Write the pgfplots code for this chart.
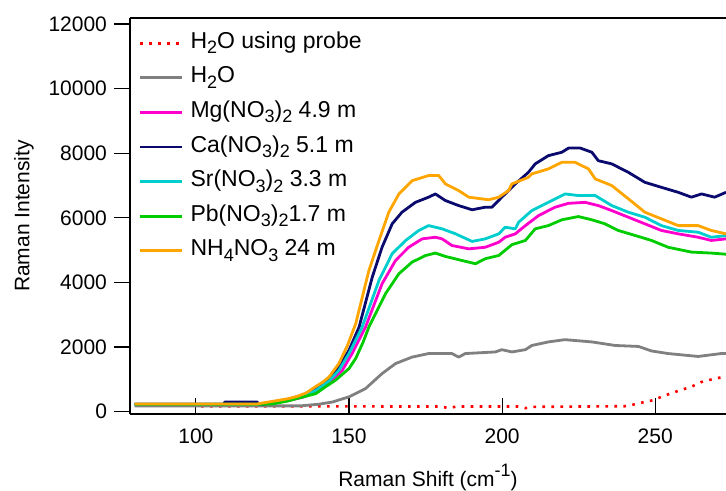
\documentclass[border=0pt]{standalone}
\usepackage{fontspec}
\setmainfont{Liberation Sans}
\usepackage{pgfplots}
\pgfplotsset{compat=1.18}
\definecolor{cnavy}{RGB}{10,10,110}
\definecolor{corange}{RGB}{255,165,0}
\definecolor{ccyan}{RGB}{0,205,205}
\definecolor{cmag}{RGB}{255,0,204}
\definecolor{cgreen}{RGB}{0,204,0}
\definecolor{cgray}{RGB}{128,128,128}
\newcommand{\sub}[1]{\raisebox{-0.45ex}{\fontsize{9}{10}\selectfont #1}}
\begin{document}
\begin{tikzpicture}
\begin{axis}[
  at={(0,0)}, anchor=south west,
  scale only axis, width=298pt, height=198pt,
  xmin=78.5, xmax=273.1, ymin=-71, ymax=12186,
  separate axis lines,
  axis x line*=box, axis y line*=left,
  axis line style={-, line width=0.9pt, black},
  xtick={100,150,200,250}, ytick={0,2000,...,12000},
  xtick pos=lower, ytick pos=left,
  xtick align=inside, ytick align=outside,
  major tick length=8pt,
  tick style={black, line width=0.6pt},
  minor tick num=0,
  scaled y ticks=false,
  /pgf/number format/1000 sep={},
  /pgf/number format/assume math mode=true,
  tick label style={font=\fontsize{10.5}{12}\selectfont},
  xticklabel style={yshift=-4pt},
  xlabel={Raman Shift (cm\raisebox{0.9ex}{\fontsize{9}{10}\selectfont -1})},
  ylabel={Raman Intensity},
  label style={font=\fontsize{10.5}{12}\selectfont},
  xlabel style={at={(axis description cs:0.5,-0.182)}, anchor=base},
  ylabel style={at={(axis description cs:-0.178,0.5)}, anchor=center},
  legend style={draw=none, fill=none, at={(axis description cs:0.014,0.975)}, anchor=north west,
    font=\fontsize{11.5}{13}\selectfont, row sep=2.3pt, inner sep=0pt,
    nodes={text height=9pt, text depth=4pt, inner ysep=1pt, inner xsep=3.5pt}},
  legend cell align=left,
  legend image code/.code={\draw[#1] (0pt,0pt) -- (21pt,0pt);},
  every axis plot/.append style={line width=1.4pt, line join=round},
]
\addplot[red, line width=1.3pt, dash pattern=on 1.3pt off 3.2pt] coordinates {
(101.7,170) (180,160) (182.6,110) (185,160) (205,160) (207.6,110) (210,150) (240,170)
(242,200) (245,270) (249.3,355) (252.5,480) (256.4,610) (261.7,770) (265.6,940) (272,1075) (273.1,1100)};
\addlegendentry{H\sub{2}O using probe}
\addplot[cgray] coordinates {
(80,180) (120,180) (134,180) (140,230) (144.6,300) (150,460) (155.4,715) (160.8,1180)
(165.2,1490) (170.6,1690) (176,1800) (183.6,1800) (185.8,1690) (188,1800) (197.8,1850)
(199.9,1920) (203.2,1850) (207.6,1920) (209.7,2050) (215.1,2160) (220.5,2230) (229.3,2160)
(236.9,2050) (244.5,2020) (248.8,1880) (254.2,1800) (264,1710) (271.5,1800) (273.1,1800)};
\addlegendentry{H\sub{2}O}
\addplot[cmag] coordinates {
(80,230) (120,230) (125,270) (130,340) (135,450) (139,620) (143.5,900) (147.8,1280) (151,1800)
(155.4,2620) (160.8,3960) (165.2,4680) (169.5,5090) (173.9,5350) (178.2,5400) (180.4,5350)
(183.6,5145) (189.1,5040) (194.5,5090) (198.9,5245) (201,5400) (204.3,5505) (207.6,5760)
(211.9,6070) (217.3,6330) (221.7,6450) (227.1,6480) (231.4,6380) (235.8,6225) (241.2,6020)
(246.6,5815) (252,5610) (257.5,5505) (264,5400) (268.3,5300) (273.1,5350)};
\addlegendentry{Mg(NO\sub{3})\sub{2} 4.9 m}
\addplot[cnavy] coordinates {
(80,230) (109,230) (109.5,300) (120,300) (120.5,230) (122,230) (125,300) (130,380) (135,520)
(139,720) (143.5,1000) (146.7,1385) (150,1900) (153.3,2620) (157.6,4165) (160.8,5090)
(164.1,5815) (167.3,6175) (171.7,6480) (176,6640) (178.2,6740) (181.5,6535) (185.8,6380)
(190.2,6250) (194.5,6330) (196.7,6330) (199.9,6640) (204.3,7050) (208.6,7410) (210.8,7670)
(215.1,7925) (219.5,8030) (221.7,8160) (225.5,8160) (229.3,8030) (231.4,7770) (235.8,7670)
(241.2,7410) (246.6,7100) (252,6945) (257.5,6790) (261.8,6640) (265.1,6740) (269.4,6640) (273.1,6790)};
\addlegendentry{Ca(NO\sub{3})\sub{2} 5.1 m}
\addplot[ccyan] coordinates {
(80,230) (120,230) (125,280) (130,350) (135,470) (139,650) (143.5,950) (146.7,1280) (150,1800)
(154.3,2620) (159.8,4065) (164.1,4890) (168.5,5300) (172.8,5610) (176,5760) (180.4,5660)
(184.8,5505) (190.2,5270) (194.5,5350) (198.9,5505) (201,5710) (204.3,5660) (205.4,5865)
(209.7,6225) (215.1,6480) (220.6,6740) (224.9,6690) (230.4,6690) (235.8,6380) (241.2,6175)
(246.6,6020) (252,5760) (257.5,5610) (264,5555) (268.3,5400) (273.1,5450)};
\addlegendentry{Sr(NO\sub{3})\sub{2} 3.3 m}
\addplot[cgreen] coordinates {
(80,230) (120,230) (125,240) (130,330) (132.6,400) (136,480) (139.2,560) (142,750) (145.6,975)
(150,1335) (152.2,1650) (154.6,2150) (156.5,2620) (161.9,3650) (166.3,4270) (170.6,4630)
(175,4835) (178.2,4910) (181.5,4805) (186.9,4680) (191.3,4580) (194.5,4735) (198.9,4835)
(203.2,5170) (207.6,5300) (210.8,5660) (215.1,5760) (219.5,5940) (224.9,6040) (229.3,5940)
(233.6,5815) (237.9,5610) (243.4,5455) (248.8,5300) (254.2,5090) (261.8,4940) (268.3,4910) (273.1,4875)};
\addlegendentry{Pb(NO\sub{3})\sub{2}1.7 m}
\addplot[corange] coordinates {
(80,240) (120,240) (125,320) (130,400) (133,470) (136,580) (139,770) (141.5,920) (143.5,1075)
(146.7,1490) (149.5,2050) (152.2,2725) (156.5,4370) (159.8,5300) (163,6175) (166.3,6740)
(170.6,7150) (176,7310) (179.3,7310) (181.5,7050) (185.8,6845) (189.1,6640) (195.6,6560)
(198.9,6640) (202.1,6845) (203.2,7050) (208.6,7255) (209.7,7360) (215.1,7515) (219.5,7720)
(223.8,7720) (228.2,7515) (230.4,7205) (235.8,7000) (241.2,6590) (246.6,6175) (252,5970)
(257.5,5760) (264,5760) (268.3,5610) (273.1,5505)};
\addlegendentry{NH\sub{4}NO\sub{3} 24 m}
\end{axis}
\pgfresetboundingbox
\useasboundingbox (-65pt,-38.5pt) rectangle (298pt,207pt);
\end{tikzpicture}
\end{document}
